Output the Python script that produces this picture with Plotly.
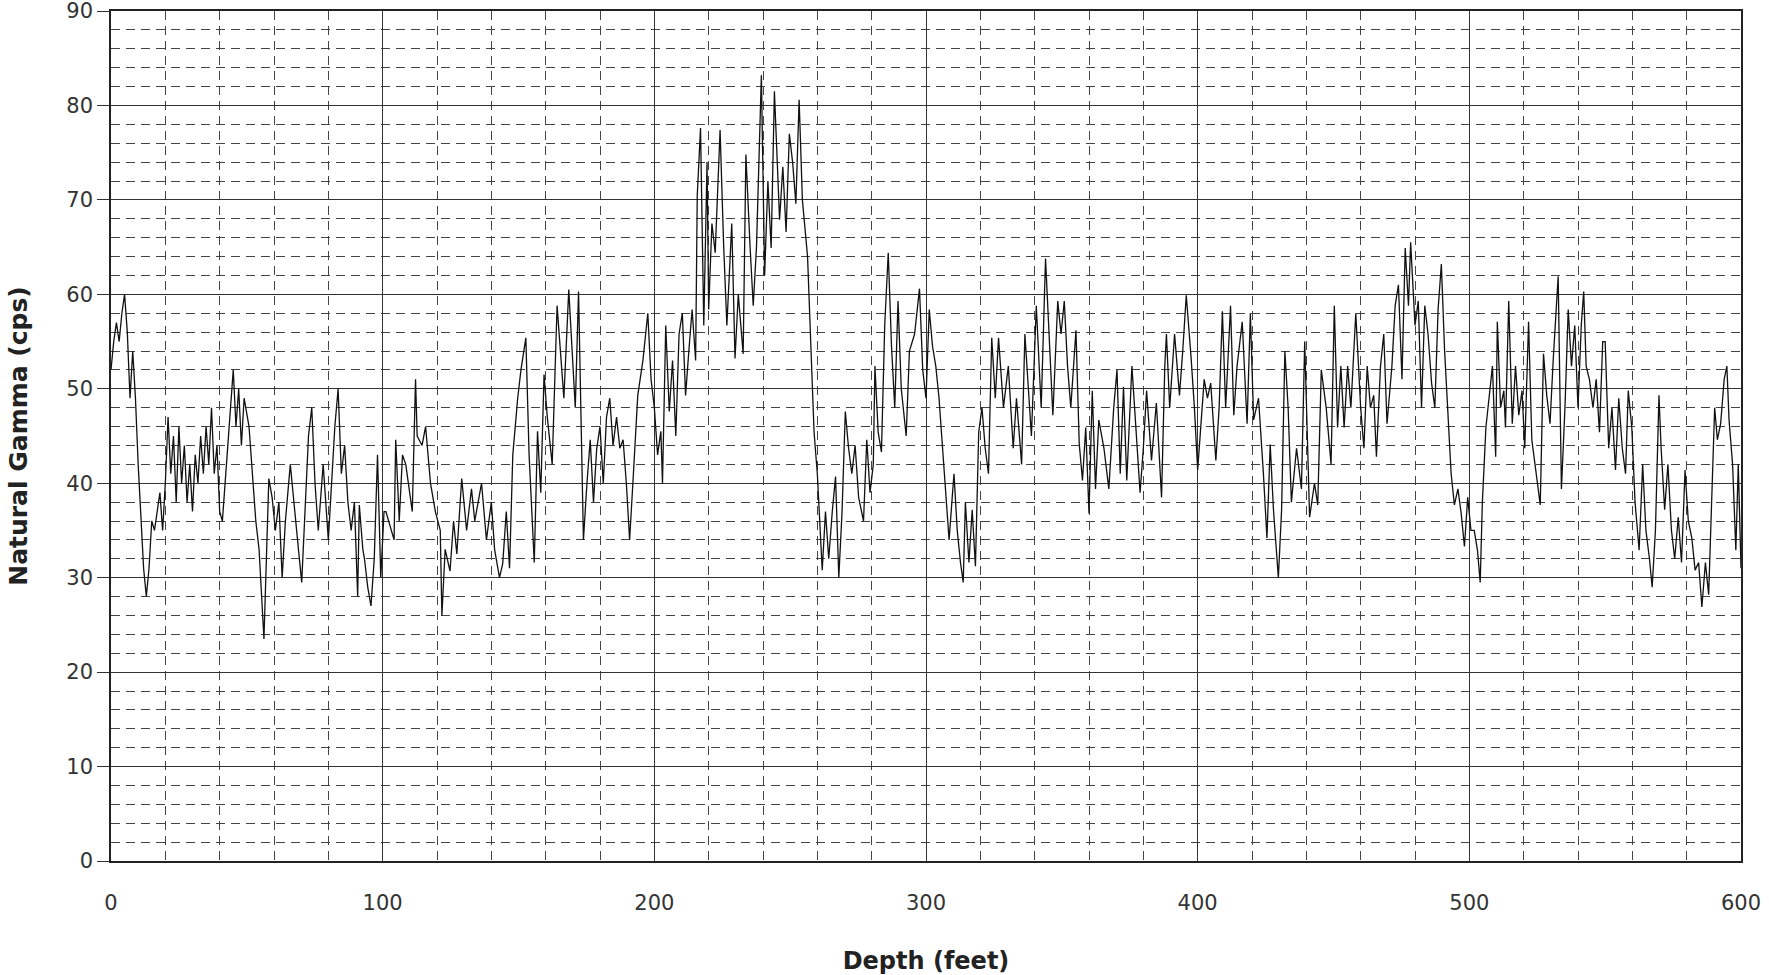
import plotly.graph_objects as go

depth = [
    0, 1, 2, 3, 4, 5, 6, 7, 8, 9, 10, 11, 12, 13, 14, 15, 16, 17, 18, 19,
    20, 21, 22, 23, 24, 25, 26, 27, 28, 29, 30, 31, 32, 33, 34, 35, 36, 37, 38, 39,
    40, 41, 42, 43, 44, 45, 46, 47, 48, 49,
    50.8, 53.3, 54.5, 56.3, 58.1, 59.3, 60.5, 61.8, 63, 64.2, 66, 67.8, 69, 70.2,
    72.7, 73.9, 75.1, 76.3, 78.1, 80, 81.2, 82.4, 83.6, 84.8, 86, 87.2, 88.4, 89.6,
    90.8, 91.4, 92.7, 93.3, 94.5, 95.7, 96.9, 98.1, 99.3,
    100.5, 101.2, 104.2, 104.8, 106.1, 107.3, 108.5, 110.9, 112.1, 112.7, 114.5,
    115.8, 117.6, 119.4, 121.2, 121.8, 123, 124.8, 126.1, 127.3, 129.1, 130.9,
    132.7, 133.9, 136.4, 138.2, 140, 141.2, 143, 144.2, 145.5, 146.7, 147.9, 149.7,
    150.9, 152.7, 153.9, 155.8, 157, 158.2, 159.4, 160.6, 162.4, 164.2, 165.5,
    166.7, 168.5, 169.7, 170.9, 172.1, 173.3, 173.9, 175.2, 176.4, 177.6, 178.8,
    180, 181.2, 182.4, 183.6, 184.8, 186.1, 187.3, 188.5, 189.7, 190.9, 192.1,
    193.9, 195.8, 197.6, 198.8,
    200, 201.2, 202.4, 203, 204.2, 205.5, 206.7, 207.9, 209.1, 210.3, 211.5,
    212.7, 213.9, 215.2, 215.8, 217, 218.2, 219.4, 220, 221.2, 222.4, 224.2,
    225.5, 226.7, 228.5, 229.7, 230.9, 232.7, 233.7, 235.2, 236.4, 237.6, 239.4,
    240.6, 241.8, 243, 244.2, 246.1, 247.3, 248.5, 249.7,
    250.9, 252.1, 253.3, 254.5, 256.4, 257.6, 258.8, 260, 260.6, 261.8, 263,
    264.2, 265.5, 266.7, 267.9, 269.1, 270.3, 271.5, 272.7, 273.9, 275.2, 277,
    278.2, 279.4, 280.6, 281.2, 282.4, 283.6, 284.8, 286.1, 287.3, 288.5, 289.7,
    290.9, 292.7, 293.9, 295.8, 297.6, 298.8,
    300, 301.2, 302.4, 303.6, 304.8, 306.1, 307.3, 308.5, 310.3, 311.5, 312.7,
    313.7, 314.5, 315.8, 317, 318.2, 319.4, 320.6, 321.8, 323, 324.2, 325.5,
    326.7, 328.5, 330.3, 332.1, 333.3, 335.2, 336.4, 337.6, 338.8, 340.6, 342.4,
    344, 345.5, 346.7, 348.5, 349.7,
    350.9, 352.1, 353.3, 355.2, 356.4, 357.6, 358.8, 360, 361.2, 362.4, 363.6,
    365.5, 367.3, 369.1, 370.3, 371.5, 372.7, 373.9, 375.8, 377.6, 378.8, 380,
    381.2, 383, 384.8, 386.7, 387.9, 388.5, 389.7, 391.5, 393.3, 394.5, 395.8,
    397.6, 398.8,
    400, 401.2, 402.4, 403.6, 404.8, 406.7, 407.9, 409.1, 410.3, 412.1, 413.3,
    414.5, 416.4, 418.2, 419.4, 420.6, 422.4, 424.2, 425.5, 426.7, 427.9, 429.7,
    430.9, 432.1, 433.3, 434.5, 436.4, 438.2, 439.4, 441.2, 443, 444.2, 445.5,
    447.3, 449.1,
    450.3, 451.5, 452.7, 453.9, 455.2, 456.4, 458.2, 460, 461.2, 462.4, 463.6,
    464.8, 465.8, 467.3, 468.5, 469.7, 471.5, 472.7, 473.9, 475.2, 476.4, 477.6,
    478.4, 480, 481.2, 482.4, 483.6, 484.8, 486.1, 487.3, 488.5, 489.7, 490.9,
    492.1, 493.3, 494.5, 495.8, 497, 498.2, 499.4,
    500.6, 501.8, 503, 504, 504.8, 506.1, 507.3, 508.5, 509.7, 510.3, 511.5,
    512.7, 513.3, 514.5, 515.8, 517, 518.2, 519.4, 520.4, 521.8, 523, 524.2,
    526.1, 527.3, 528.5, 529.7, 530.9, 532.7, 533.9, 535.2, 536.4, 537.6, 538.8,
    540, 541.2, 542.1, 543, 544.2, 545.5, 546.7, 547.9, 549.1,
    550, 551.3, 552.5, 553.8, 555, 556.3, 557.5, 558.5, 559.8, 561, 562.5,
    563.8, 565, 566.3, 567.3, 568.5, 569.8, 570.6, 571.9, 573.1, 574.4, 575.6,
    576.9, 578.1, 579.4, 580.6, 581.9, 583.1, 584.4, 585.6, 586.9, 588.1, 589.4,
    590.3, 591.3, 592.5, 593.8, 594.8, 595.6, 596.9, 598.1, 599, 600,
]

gamma = [
    52, 55, 57, 55, 58, 60, 56, 49, 54, 49, 42, 36, 31, 28, 31, 36, 35, 37, 39, 35,
    40, 47, 41, 45, 38, 46, 40, 44, 38, 42, 37, 43, 40, 45, 41, 46, 42, 48, 41, 44,
    37, 36, 40, 44, 47, 52, 46, 50, 44, 49,
    46, 36, 33, 23.5, 40.5, 38.5, 35, 38, 30, 36, 42, 37, 33, 29.5,
    45, 48, 40, 35, 42, 34, 40, 46, 50, 41, 44, 38, 35, 38,
    28, 37.7, 33, 32, 29, 27, 32, 43, 30,
    37, 37, 34, 44.6, 36, 43, 42, 37, 51, 45, 44,
    46, 40, 37, 35, 26, 33, 30.7, 36, 32.5, 40.5, 35,
    39.4, 36, 40, 34, 38, 33, 30, 31.5, 37, 31, 43, 49,
    52, 55.4, 43, 31.6, 45.5, 39, 51.5, 47, 42, 58.8, 54,
    49, 60.5, 54, 48, 60.3, 44, 34, 40, 44.6, 38, 43.7,
    46, 40, 47, 49, 44, 47, 43.7, 44.6, 40, 34, 40,
    49.3, 53, 58, 51,
    48, 43, 45.5, 40, 56.7, 47.6, 53, 45, 55.8, 58, 49.3,
    54, 58.4, 53, 70.5, 77.6, 56.7, 74, 58.4, 67.5, 64.4, 77.4,
    65.3, 56.7, 67.5, 53.2, 60, 53.7, 74.8, 65.3, 58.8, 65, 83.2,
    62, 72, 64.9, 81.5, 67.9, 73.5, 66.6, 77,
    74, 69.6, 80.6, 70, 64, 54.5, 45.4, 41, 37.2, 30.8, 37,
    32, 37, 40.7, 30, 37, 47.6, 43.7, 41, 44, 38.5, 36,
    44.6, 39, 42, 52.4, 45.4, 43.3, 56.7, 64.4, 54.5, 48, 59.3,
    50, 45, 54, 55.8, 60.6, 52,
    49, 58.4, 54.5, 52.4, 49, 43.7, 38.5, 34, 41, 35, 31.6,
    29.5, 38, 31.6, 37.2, 31.2, 45.4, 48, 43.7, 41, 55.4, 49,
    55.4, 48, 52.4, 43.7, 49, 42, 55.8, 50.6, 45, 58.8, 48,
    63.8, 54, 47.2, 59.3, 55.8,
    59.3, 52.4, 48, 56.2, 44.2, 40.3, 45.9, 36.8, 49.8, 39.4, 46.7,
    43.7, 39.4, 48, 52, 41, 50.2, 40.3, 52.4, 43.7, 39, 43.7,
    49.8, 42.4, 48.5, 38.5, 52.4, 55.8, 48, 55.8, 49.3, 54, 59.9,
    53.2, 48,
    41.4, 46.3, 51, 49, 50.6, 42.4, 48, 58.2, 48, 58.8, 47.2,
    52.4, 57.1, 46.3, 58, 46.7, 49, 41, 34.2, 44.1, 37.2, 30,
    37.2, 54, 48, 38, 43.7, 39.4, 55, 36.4, 40, 37.7, 52,
    48, 42,
    58.8, 45.9, 52.4, 45.9, 52.4, 48, 58, 48, 43.7, 52.4, 48,
    49.3, 42.8, 52.4, 55.8, 46.3, 52.4, 58.8, 61, 51, 64.9, 58.8,
    65.5, 56.7, 59.3, 48, 58.8, 55.8, 50.6, 48, 58.4, 63.2, 54,
    48, 41, 37.7, 39.4, 36.8, 33.3, 38.5,
    35, 35, 32.9, 29.5, 38, 45.9, 49, 52.4, 42.8, 57.1, 48,
    49.8, 45.9, 59.3, 46.3, 52.4, 47.2, 49.8, 43.7, 57.1, 44.6, 42,
    37.7, 53.7, 49.3, 46.3, 53.2, 61.9, 39.4, 48, 58.4, 52.4, 56.7,
    48, 56.7, 60.3, 52.4, 51, 48, 51, 45.4, 55,
    55, 43.7, 48, 41.4, 49, 43.7, 41, 49.8, 45.9, 38, 32.9,
    42, 35, 32, 29, 35, 49.3, 43.7, 37.2, 42, 35, 32,
    36.4, 31.6, 41.4, 36, 34.2, 30.8, 31.6, 26.9, 31.6, 28.2, 41,
    48, 44.6, 46.3, 51, 52.4, 46.7, 42, 32.9, 42, 31,
]

x_ticks = [0, 100, 200, 300, 400, 500, 600]
y_ticks = [0, 10, 20, 30, 40, 50, 60, 70, 80, 90]

FONT = "DejaVu Sans"

fig = go.Figure()
fig.add_trace(go.Scatter(
    x=depth, y=gamma, mode="lines",
    line=dict(color="#111111", width=1.3),
    showlegend=False, hoverinfo="skip",
))

fig.update_layout(
    width=1769, height=975,
    margin=dict(l=111, r=28, t=11, b=114),
    paper_bgcolor="white", plot_bgcolor="white",
    font=dict(family=FONT, color="#222222", size=21),
)

fig.update_xaxes(
    range=[0, 600], tickvals=x_ticks, automargin=False,
    showgrid=True, gridcolor="#333333", gridwidth=1,
    minor=dict(dtick=20, tick0=0, showgrid=True, gridcolor="#444444",
               gridwidth=1, griddash="9px,6px"),
    showline=True, linecolor="#222222", linewidth=1.5, mirror=True,
    ticks="", ticklabelstandoff=22, tickfont=dict(size=21, family=FONT, color="#333333"),
    title=dict(text="<b>Depth (feet)</b>", font=dict(size=24, family=FONT, color="#222222"), standoff=40),
    zeroline=False,
)
fig.update_yaxes(
    range=[0, 90], tickvals=y_ticks, automargin=False,
    showgrid=True, gridcolor="#333333", gridwidth=1,
    minor=dict(dtick=2, tick0=0, showgrid=True, gridcolor="#444444",
               gridwidth=1, griddash="9px,6px"),
    showline=True, linecolor="#222222", linewidth=1.5, mirror=True,
    ticks="outside", ticklen=12, tickcolor="#333333", ticklabeloverflow="allow",
    tickfont=dict(size=21, family=FONT, color="#333333"),
    title=dict(text="<b>Natural Gamma (cps)</b>", font=dict(size=25, family=FONT, color="#222222"), standoff=32),
    zeroline=False,
)

fig.write_html("out.html")
